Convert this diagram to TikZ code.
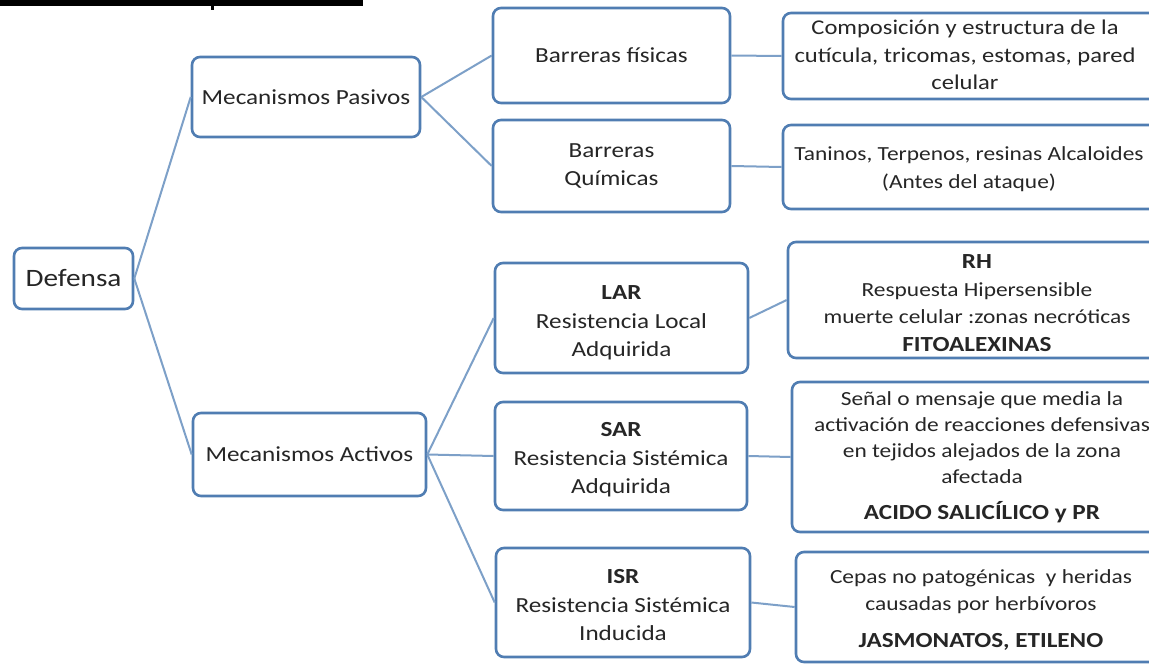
\documentclass[tikz,border=0pt]{standalone}
\usepackage{fontspec}
\setmainfont{Carlito}[FakeStretch=1.17]
\definecolor{boxline}{RGB}{80,125,178}
\definecolor{conn}{RGB}{125,160,200}
\definecolor{txt}{RGB}{38,38,38}
\newcommand{\dropby}[2]{\raisebox{-#1}[\height][\depth]{\parbox{250pt}{\centering #2}}}
\begin{document}
\begin{tikzpicture}[x=1pt,y=-1pt,
  box/.style={draw=boxline,line width=2.6pt,rounded corners=8pt,fill=white,
    text=txt,align=center,inner sep=0pt,
    font=\fontsize{21.5}{28.5}\selectfont},
  lbl/.style={text=txt,align=center,inner sep=0pt,
    font=\fontsize{20}{27.5}\selectfont},
  link/.style={draw=conn,line width=2pt}]
\useasboundingbox (0,0) rectangle (1149,664);
\fill[white] (0,0) rectangle (1149,664);
% top black bar
\fill[black] (0,0) rectangle (363,6);
\fill[black] (211,6) rectangle (214,10);
% left and middle nodes
\node[box,minimum width=119pt,minimum height=61pt,font=\fontsize{25}{30}\selectfont] (def) at (73.5,278.5) {Defensa};
\node[box,minimum width=228pt,minimum height=80pt] (pas) at (306,97) {Mecanismos Pasivos};
\node[box,minimum width=233pt,minimum height=83pt] (act) at (309.5,454.5) {Mecanismos Activos};
\node[box,minimum width=237pt,minimum height=95pt] (fis) at (611.5,55.5) {Barreras físicas};
\node[box,minimum width=237pt,minimum height=92pt] (qui) at (611.5,166) {\fontsize{21.5}{33}\selectfont Barreras\\Químicas};
\node[box,minimum width=253pt,minimum height=110pt] (lar) at (621.5,318) {\dropby{5pt}{\textbf{LAR}\\Resistencia Local\\Adquirida}};
\node[box,minimum width=252pt,minimum height=108pt] (sar) at (621,456) {\dropby{4pt}{\textbf{SAR}\\Resistencia Sistémica\\Adquirida}};
\node[box,minimum width=254pt,minimum height=109pt] (isr) at (623,602.5) {\dropby{3pt}{\textbf{ISR}\\Resistencia Sistémica\\Inducida}};
% right column frames
\node[box,minimum width=393pt,minimum height=86pt] (com) at (979.5,56) {};
\node[box,minimum width=393pt,minimum height=84pt] (tan) at (979.5,167) {};
\node[box,minimum width=388pt,minimum height=116pt] (rh) at (982,300) {};
\node[box,minimum width=384pt,minimum height=150pt] (sen) at (984,457) {};
\node[box,minimum width=380pt,minimum height=110pt] (cep) at (986,607) {};
% right column texts
\node[lbl,font=\fontsize{21}{27.5}\selectfont] (comT) at (965,55) {Composición y estructura de la\\cutícula, tricomas, estomas, pared\\celular};
\node[lbl] (tanT) at (969,169) {Taninos, Terpenos, resinas Alcaloides\\(Antes del ataque)};
\node[lbl] (rhT) at (977,303) {\textbf{\fontsize{21.5}{27.5}\selectfont RH}\\Respuesta Hipersensible\\muerte celular :zonas necróticas\\\textbf{\fontsize{21.5}{27.5}\selectfont FITOALEXINAS}};
\node[lbl,font=\fontsize{20}{26}\selectfont] (senT) at (982,457) {Señal o mensaje que media la\\activación de reacciones defensivas\\en tejidos alejados de la zona\\afectada\\[10pt]\textbf{\fontsize{21.5}{26}\selectfont ACIDO SALICÍLICO y PR}};
\node[lbl] (cepT) at (981,610) {Cepas no patogénicas\ \ y heridas\\causadas por herbívoros\\[9pt]\textbf{\fontsize{21.5}{27.5}\selectfont JASMONATOS, ETILENO}};
% connectors
\draw[link] (def.east) -- (pas.west);
\draw[link] (def.east) -- (act.west);
\draw[link] (pas.east) -- (fis.west);
\draw[link] (pas.east) -- (qui.west);
\draw[link] (act.east) -- (lar.west);
\draw[link] (act.east) -- (sar.west);
\draw[link] (act.east) -- (isr.west);
\draw[link] (fis.east) -- (com.west);
\draw[link] (qui.east) -- (tan.west);
\draw[link] (lar.east) -- (rh.west);
\draw[link] (sar.east) -- (sen.west);
\draw[link] (isr.east) -- (cep.west);
\end{tikzpicture}
\end{document}
